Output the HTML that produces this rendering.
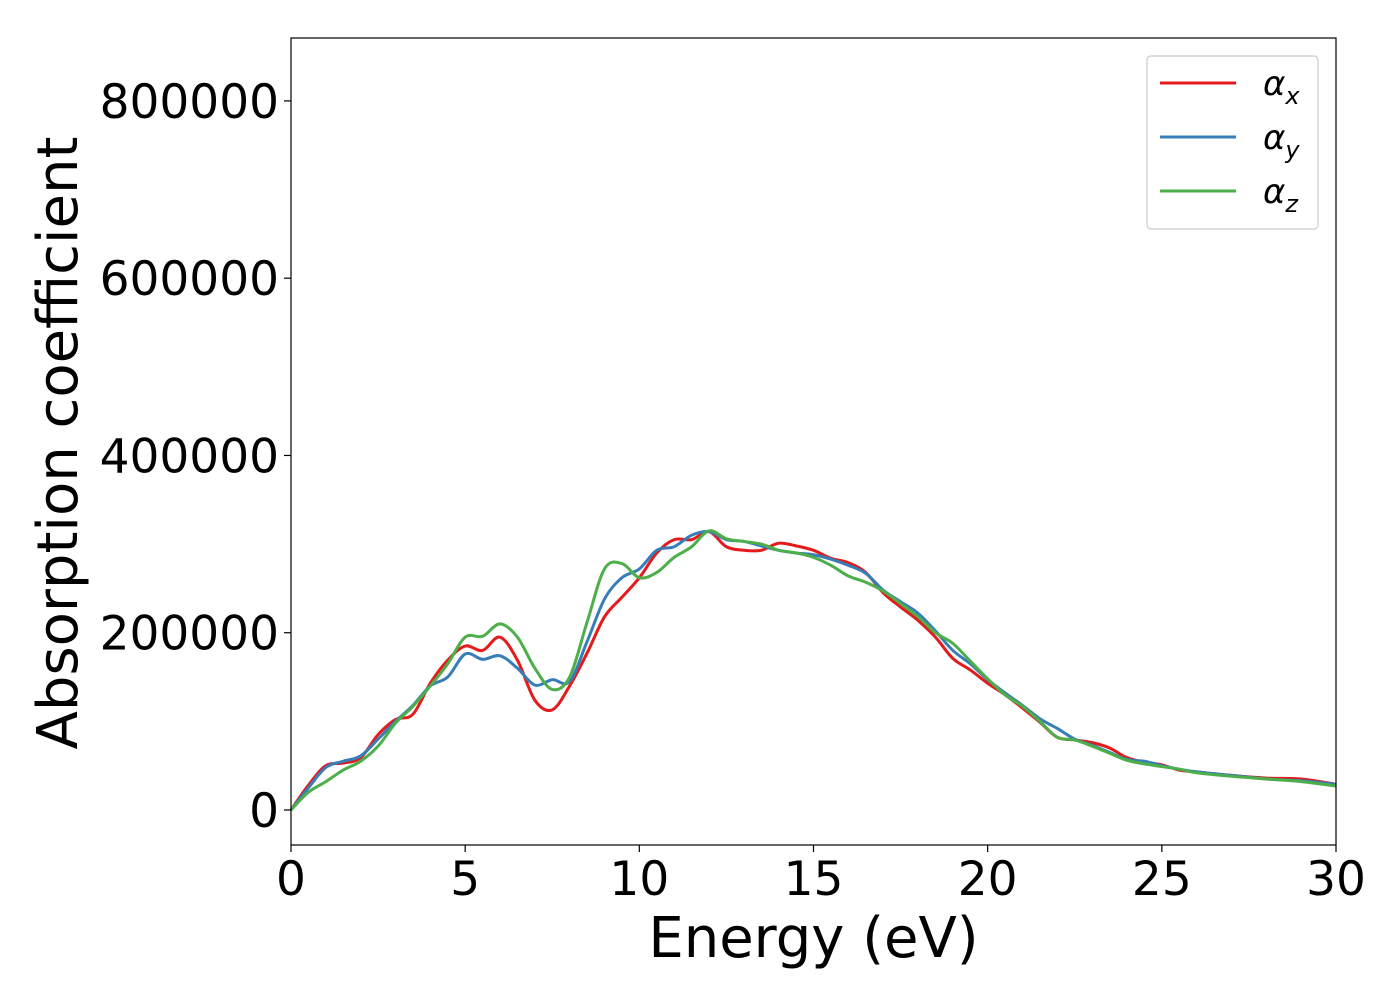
<!DOCTYPE html>
<html><head><meta charset="utf-8"><style>
body{margin:0;background:#fff;}
svg{display:block;font-family:"DejaVu Sans","Liberation Sans",sans-serif;}
</style></head><body>
<svg id="chart" width="1400" height="1000" viewBox="0 0 1400 1000">
<g id="plot"></g>
<g id="axes"></g>
</svg>
<script>
const energies=[0,0.5,1,1.5,2,2.5,3,3.5,4,4.5,5,5.5,6,6.5,7,7.5,8,8.5,9,9.5,10,10.5,11,11.5,12,12.5,13,13.5,14,14.5,15,15.5,16,16.5,17,17.5,18,18.5,19,19.5,20,20.5,21,21.5,22,22.5,23,23.5,24,24.5,25,25.5,26,27,28,29,30];
const alphaX=[0,28000,50000,53000,59000,85000,102000,108000,143000,169000,185000,180000,195000,169000,124000,113000,140000,177000,218000,240000,262000,290000,305000,305000,314000,297000,293000,293000,301000,298000,293000,284000,279000,268000,245000,229000,214000,195000,171000,158000,143000,130000,115000,99000,82000,79000,76000,70000,59000,54000,51000,45000,43000,39000,36000,35000,29000];
const alphaY=[0,25000,48000,55000,61000,80000,100000,118000,140000,150000,176000,170000,174000,160000,141000,147000,145000,190000,238000,262000,272000,293000,297000,310000,314000,305000,303000,298000,293000,290000,288000,283000,276000,267000,248000,235000,222000,202000,180000,165000,147000,132000,118000,103000,92000,80000,73000,65000,57000,55000,50000,46000,43000,39000,35000,33000,29000];
const alphaZ=[0,20000,32000,45000,55000,72000,98000,117000,140000,165000,195000,196000,210000,195000,160000,136000,150000,212000,272000,278000,262000,268000,285000,297000,315000,306000,303000,300000,293000,290000,285000,276000,264000,257000,247000,233000,218000,200000,188000,168000,148000,130000,117000,100000,82000,79000,72000,64000,56000,52000,49000,46000,42000,38000,35000,32000,27000];
const xTicks=[0,5,10,15,20,25,30];
const yTicks=[0,200000,400000,600000,800000];
const seriesNames=["x","y","z"];
const seriesColors=["#e41a1c","#377eb8","#4daf4a"];

const L=291,R=1336,T=38,B=845;
const xMin=0,xMax=30,yMin=-39500,yMax=871000;
const sx=v=>L+(v-xMin)/(xMax-xMin)*(R-L);
const sy=v=>B-(v-yMin)/(yMax-yMin)*(B-T);
const NS="http://www.w3.org/2000/svg";
function mk(tag,attrs,parent){const e=document.createElementNS(NS,tag);for(const k in attrs)e.setAttribute(k,attrs[k]);parent.appendChild(e);return e;}
function pathFor(xs,ys){
  const p=xs.map((x,i)=>[sx(x),sy(ys[i])]);
  let d="M"+p[0][0]+","+p[0][1];
  for(let i=0;i<p.length-1;i++){
    const p0=p[i-1]||p[i],p1=p[i],p2=p[i+1],p3=p[i+2]||p2;
    const c1=[p1[0]+(p2[0]-p0[0])/6,p1[1]+(p2[1]-p0[1])/6];
    const c2=[p2[0]-(p3[0]-p1[0])/6,p2[1]-(p3[1]-p1[1])/6];
    d+=" C"+c1+" "+c2+" "+p2;
  }
  return d;
}
const plot=document.getElementById("plot");
const axes=document.getElementById("axes");
const all=[alphaX,alphaY,alphaZ];
all.forEach((vals,i)=>{
  const p=mk("path",{d:pathFor(energies,vals),fill:"none",stroke:seriesColors[i],"stroke-width":3},plot);
  
  
});
const frame=mk("rect",{x:L,y:T,width:R-L,height:B-T,fill:"none",stroke:"#000","stroke-width":1.2},axes);


xTicks.forEach(t=>{
  const x=sx(t);
  mk("line",{x1:x,x2:x,y1:B,y2:B+7,stroke:"#000","stroke-width":1.2},axes);
  const tx=mk("text",{x:x,y:895,"font-size":47,"text-anchor":"middle"},axes);
  tx.textContent=t;
  
  
});
yTicks.forEach(t=>{
  const y=sy(t);
  mk("line",{x1:L-7,x2:L,y1:y,y2:y,stroke:"#000","stroke-width":1.2},axes);
  const tx=mk("text",{x:L-12,y:y+17,"font-size":47,"text-anchor":"end"},axes);
  tx.textContent=t;
  
  
});
const xl=mk("text",{x:(L+R)/2,y:957,"font-size":56,"text-anchor":"middle"},axes);
xl.textContent="Energy (eV)";


const yl=mk("text",{x:0,y:0,"font-size":56,"text-anchor":"middle",transform:"translate(77,443) rotate(-90)"},axes);
yl.textContent="Absorption coefficient";


const lg=mk("g",{},axes);


mk("rect",{x:1147,y:56,width:171,height:173,rx:4,fill:"#fff",stroke:"#ccc","stroke-width":1.2},lg);
seriesNames.forEach((n,i)=>{
  const y=83+i*54;
  const ln=mk("line",{x1:1160,x2:1236,y1:y,y2:y,stroke:seriesColors[i],"stroke-width":3},lg);
  
  
  const tx=mk("text",{x:1263,y:y+12,"font-size":34,"font-style":"italic",fill:"#000"},lg);
  
  
  tx.textContent="α";
  const sub=mk("tspan",{"font-size":24,dy:9},tx);
  sub.textContent=n;
});
</script>
</body></html>
